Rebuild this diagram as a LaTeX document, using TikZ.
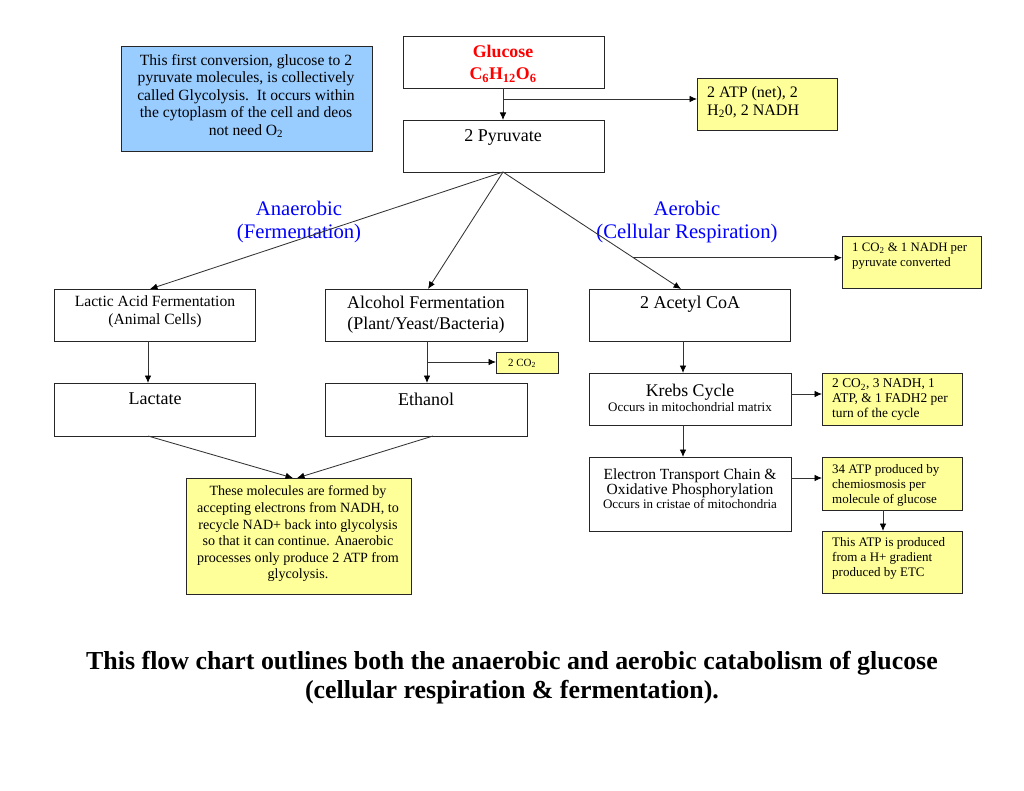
\documentclass[tikz,border=0pt]{standalone}
\usepackage{fontspec}
\setmainfont{Liberation Serif}
\usetikzlibrary{arrows.meta,calc}
\definecolor{boxblue}{HTML}{99CCFF}
\definecolor{boxyellow}{HTML}{FFFF99}
\definecolor{lblblue}{HTML}{0000FF}
\tikzset{
  box/.style={draw=black!85, line width=1.3pt, anchor=north west, inner sep=0pt},
  txt/.style={inner sep=0pt, align=center},
  ltxt/.style={inner sep=0pt, align=left, anchor=west},
  arr/.style={draw=black!80, line width=0.85pt, -{Latex[length=7.5pt,width=6.5pt,black]}},
}
\newcommand{\fs}[2]{\fontsize{#1}{#2}\selectfont}
\begin{document}
\begin{tikzpicture}[x=1pt,y=-1pt]
\useasboundingbox (0,0) rectangle (1024,791);
% boxes
\node[box, fill=boxblue, minimum width=251pt, minimum height=105pt] (blue) at (121,46) {};
\node[box, minimum width=201pt, minimum height=52pt] (glu) at (403,36) {};
\node[box, minimum width=201pt, minimum height=52pt] (pyr) at (403,120) {};
\node[box, fill=boxyellow, minimum width=140pt, minimum height=52pt] (atp) at (697,78) {};
\node[box, fill=boxyellow, minimum width=139pt, minimum height=52pt] (co2a) at (842,236) {};
\node[box, minimum width=201pt, minimum height=52pt] (lac) at (54,289) {};
\node[box, minimum width=202pt, minimum height=52pt] (alc) at (325,289) {};
\node[box, minimum width=201pt, minimum height=52pt] (ace) at (589,289) {};
\node[box, minimum width=201pt, minimum height=53pt] (lact) at (54,383) {};
\node[box, minimum width=202pt, minimum height=53pt] (eth) at (325,383) {};
\node[box, fill=boxyellow, minimum width=62pt, minimum height=21pt] (co2b) at (496,352) {};
\node[box, minimum width=202pt, minimum height=52pt] (krebs) at (589,373) {};
\node[box, fill=boxyellow, minimum width=140pt, minimum height=52pt] (kout) at (822,373) {};
\node[box, minimum width=202pt, minimum height=74pt] (etc) at (589,457) {};
\node[box, fill=boxyellow, minimum width=140pt, minimum height=53pt] (atp34) at (822,457) {};
\node[box, fill=boxyellow, minimum width=140pt, minimum height=62pt] (hplus) at (822,531) {};
\node[box, fill=boxyellow, minimum width=225pt, minimum height=116pt] (note) at (186,478) {};
% texts
\node[txt, font=\fs{15.6}{17.6}] (bluet) at (246,96) {This first conversion, glucose to 2\\pyruvate molecules, is collectively\\called Glycolysis.\ \ It occurs within\\the cytoplasm of the cell and deos\\not need O\textsubscript{2}};
\node[txt, font=\fs{17.8}{22.5}\bfseries, text=red] (glut) at (503,63.5) {Glucose\\C\textsubscript{6}H\textsubscript{12}O\textsubscript{6}};
\node[txt, font=\fs{18}{20}] (pyrt) at (503,137) {2 Pyruvate};
\node[ltxt, font=\fs{16}{17.5}] (atpt) at (707,102) {2 ATP (net), 2\\H\textsubscript{2}0, 2 NADH};
\node[ltxt, font=\fs{12.8}{14.5}] (co2at) at (852,256) {1 CO\textsubscript{2} \& 1 NADH per\\pyruvate converted};
\node[txt, font=\fs{20.7}{23}, text=lblblue] (anaer) at (299,222.5) {Anaerobic\\(Fermentation)};
\node[txt, font=\fs{20.7}{23}, text=lblblue] (aer) at (687,222.5) {Aerobic\\(Cellular Respiration)};
\node[txt, font=\fs{15.6}{18}] (lact1) at (155,312) {Lactic Acid Fermentation\\(Animal Cells)};
\node[txt, font=\fs{17.9}{21.5}] (alct) at (426,314.5) {Alcohol Fermentation\\(Plant/Yeast/Bacteria)};
\node[txt, font=\fs{18}{20}] (acet) at (690,304) {2 Acetyl CoA};
\node[txt, font=\fs{18}{20}] (lactt) at (155,399) {Lactate};
\node[txt, font=\fs{18}{20}] (etht) at (426,399) {Ethanol};
\node[txt, font=\fs{11}{12}] (co2bt) at (522,363.5) {2 CO\textsubscript{2}};
\node[txt] (krebst) at (690,397.5) {{\fs{17.8}{18}Krebs Cycle}\\[1pt]{\fs{13}{17}Occurs in mitochondrial matrix}};
\node[ltxt, font=\fs{13.4}{15}] (koutt) at (832,400) {2 CO\textsubscript{2}, 3 NADH, 1\\ATP, \& 1 FADH2 per\\turn of the cycle};
\node[txt] (etct) at (690,488.5) {{\fs{15.5}{17.5}Electron Transport Chain \&}\\{\fs{15.5}{17.5}Oxidative Phosphorylation}\\[1pt]{\fs{13}{18}Occurs in cristae of mitochondria}};
\node[ltxt, font=\fs{13}{15}] (atp34t) at (832,485) {34 ATP produced by\\chemiosmosis per\\molecule of glucose};
\node[ltxt, font=\fs{13}{15}] (hplust) at (832,558) {This ATP is produced\\from a H+ gradient\\produced by ETC};
\node[txt, font=\fs{14.1}{16.6}] (notet) at (298,534) {These molecules are formed by\\accepting electrons from NADH, to\\recycle NAD+ back into glycolysis\\so that it can continue. Anaerobic\\processes only produce 2 ATP from\\glycolysis.};
\node[txt, font=\fs{25.9}{29}\bfseries] (title) at (512,677.5) {This flow chart outlines both the anaerobic and aerobic catabolism of glucose\\(cellular respiration \& fermentation).};
% connectors
\coordinate (gb) at (503,88);
\coordinate (pt) at (503,120);
\coordinate (gbr) at (503,99);
\draw[arr] (gb) -- (pt);
\draw[arr] (gbr) -- (gbr -| atp.west);
\coordinate (pb) at (503,172);
\coordinate (lt) at (150,289);
\coordinate (at) at (428,289);
\coordinate (ct) at (681,289);
\draw[arr] (pb) -- (lt);
\draw[arr] (pb) -- (at);
\draw[arr] (pb) -- (ct);
\coordinate (cbr) at ($(pb)!0.7328!(ct)$);
\draw[arr] (cbr) -- (cbr -| co2a.west);
\coordinate (lb) at (148,341);
\coordinate (ltop) at (148,383);
\draw[arr] (lb) -- (ltop);
\coordinate (ab) at (427,341);
\coordinate (etop) at (427,383);
\draw[arr] (ab) -- (etop);
\coordinate (abr) at (427,362);
\draw[arr] (abr) -- (abr -| co2b.west);
\coordinate (lactb) at (148,436);
\coordinate (ethb) at (433,436);
\coordinate (n1) at (293,478);
\coordinate (n2) at (297,478);
\draw[arr] (lactb) -- (n1);
\draw[arr] (ethb) -- (n2);
\coordinate (acb) at (683,341);
\coordinate (krt) at (683,373);
\draw[arr] (acb) -- (krt);
\coordinate (krb) at (683,425);
\coordinate (ett) at (683,457);
\draw[arr] (krb) -- (ett);
\coordinate (krr) at (791,394);
\draw[arr] (krr) -- (krr -| kout.west);
\coordinate (etr) at (791,478);
\draw[arr] (etr) -- (etr -| atp34.west);
\coordinate (a34b) at (883,510);
\coordinate (hpt) at (883,531);
\draw[arr] (a34b) -- (hpt);
\end{tikzpicture}
\end{document}
